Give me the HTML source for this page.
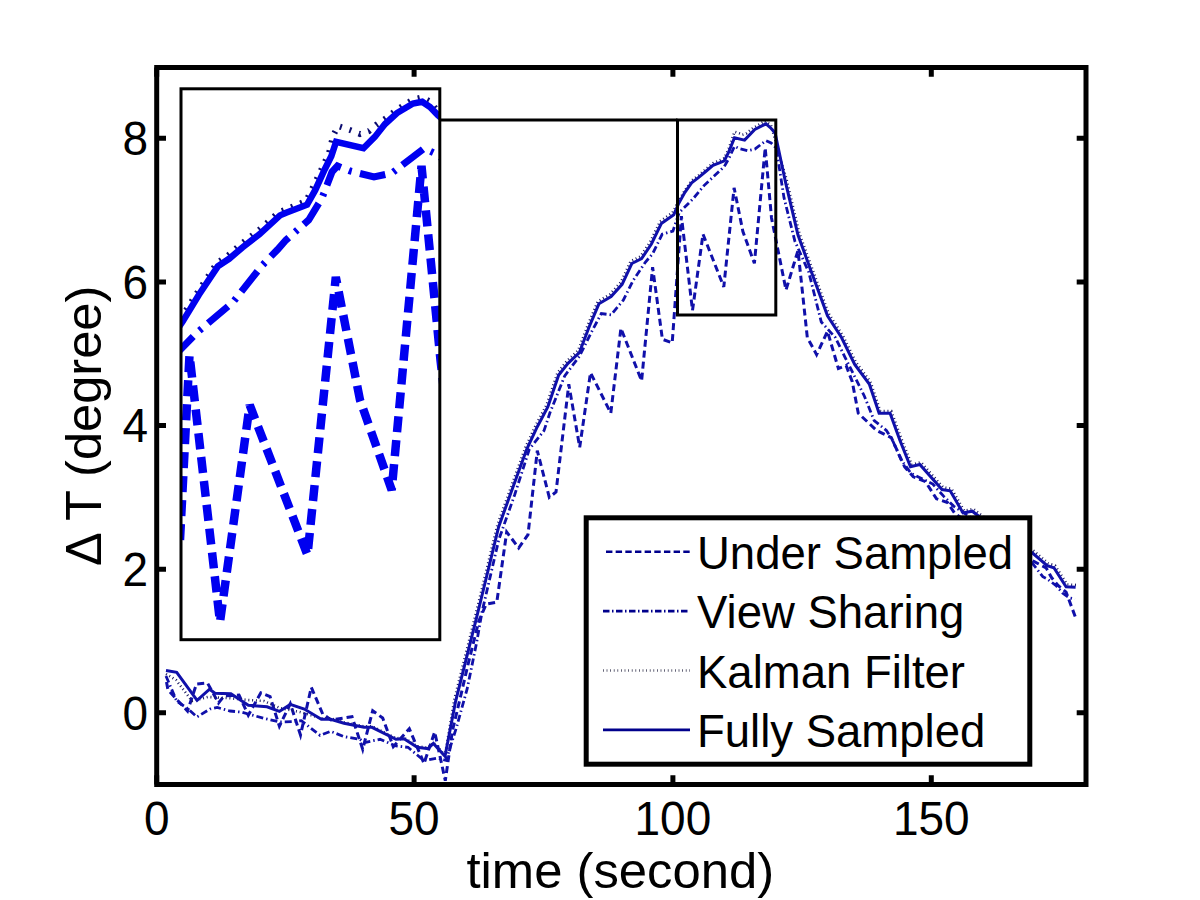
<!DOCTYPE html><html><head><meta charset="utf-8"><style>html,body{margin:0;padding:0;background:#fff;}svg{display:block;}</style></head><body><svg width="1200" height="900" viewBox="0 0 1200 900">
<rect width="1200" height="900" fill="#fff"/>
<defs><clipPath id="cm"><rect x="156.7" y="67.5" width="929.3" height="717.0"/></clipPath>
<clipPath id="ci"><rect x="181.0" y="88.8" width="258.8" height="550.9"/></clipPath></defs>
<g clip-path="url(#cm)" fill="none" stroke="#1010aa" stroke-linejoin="miter">
<polyline points="166.5,682.0 168.0,690.0 187.5,711.0 196.5,684.0 207.5,683.0 218.5,703.0 224.0,696.0 239.0,695.0 248.3,715.3 260.8,692.8 270.1,696.7 279.4,726.2 290.3,703.7 300.5,735.0 311.3,687.3 322.7,714.0 331.0,720.0 352.0,716.7 362.7,749.3 372.7,710.7 382.7,718.0 393.3,746.7 409.3,728.7 424.0,763.3 434.7,732.0 445.3,780.7 452.4,730.9 461.9,690.8 468.3,663.3 478.8,621.1 486.2,604.2 496.8,602.1 506.7,532.0 518.7,548.0 528.0,534.7 537.3,450.7 549.3,497.3 556.0,492.0 568.8,384.3 579.7,447.3 590.5,372.7 610.8,413.1 620.9,328.3 641.6,380.8 652.6,267.2 662.4,339.3 672.2,342.9 681.4,216.2 692.5,310.4 703.0,234.2 723.8,286.9 734.1,187.8 742.9,231.5 754.4,263.3 765.2,147.9 771.5,218.0 786.0,290.0 798.0,250.5 807.3,337.5 816.6,354.6 827.5,331.3 838.4,368.6 846.1,365.5 852.2,381.5 858.3,413.3 876.6,430.4 891.3,437.7 904.7,467.0 913.3,476.8 925.5,481.7 936.5,498.8 947.5,502.5 954.8,513.5 980.0,530.0 1010.0,548.0 1033.3,561.1 1046.1,567.8 1051.7,577.8 1058.3,585.6 1066.1,592.2 1076.1,618.9" stroke-width="3" stroke-dasharray="7 4"/>
<polyline points="166.0,676.0 176.8,701.3 187.0,708.0 197.0,716.9 210.0,709.0 217.2,707.5 230.0,711.0 242.1,712.2 263.9,718.4 280.0,722.0 295.0,721.5 301.3,720.7 320.0,735.3 330.7,731.3 344.0,736.7 360.0,739.3 364.0,742.7 380.0,739.3 396.0,746.0 408.0,747.3 424.0,760.7 437.3,758.0 446.1,760.4 456.7,726.6 467.2,688.7 476.7,642.2 482.0,612.0 498.7,540.0 514.7,494.7 529.3,449.3 544.0,430.7 550.0,412.6 564.7,375.9 579.3,356.4 591.5,332.0 601.3,313.6 611.1,314.8 623.3,300.2 633.1,280.6 645.3,262.3 652.6,253.8 662.2,234.2 672.9,231.1 679.2,212.6 692.8,199.1 704.0,185.6 713.0,177.1 724.3,166.5 728.8,158.6 734.5,146.3 739.0,148.5 748.0,150.7 754.8,149.1 766.0,140.6 771.1,142.9 776.2,148.0 784.0,197.7 794.9,241.2 808.8,272.3 821.3,322.0 835.3,337.5 844.9,357.1 854.7,376.6 864.4,396.2 874.2,420.6 886.4,430.4 892.5,440.2 901.1,459.7 910.9,473.2 923.1,479.3 932.8,484.1 943.8,496.4 953.6,506.1 990.0,530.0 1033.3,564.4 1042.8,576.7 1047.2,578.9 1056.1,585.6 1062.8,593.3 1069.4,597.8 1075.0,598.9" stroke-width="2.8" stroke-dasharray="7 3 1.5 3"/>
<polyline points="166.0,674.0 176.0,680.0 192.0,701.0 208.0,697.0 228.0,698.0 248.0,700.0 264.0,701.0 280.0,708.0 300.0,712.0 321.3,718.3 330.7,718.3 344.0,722.3 364.0,726.3 372.0,726.3 396.0,738.3 404.0,737.7 417.3,746.3 428.0,747.7 433.4,742.5 445.0,755.2 454.4,699.1 463.9,661.1 469.2,640.0 474.5,618.9 479.7,597.8 497.5,524.5 508.1,495.1 525.5,447.1 536.1,424.5 546.6,404.7 557.5,372.8 566.8,361.1 578.1,350.5 587.9,324.8 597.7,301.6 609.9,294.3 620.9,282.1 630.6,261.3 640.4,256.4 650.2,241.8 660.1,221.4 672.6,212.5 678.1,201.9 684.9,190.3 691.6,180.6 698.4,175.5 706.3,168.7 713.0,163.2 718.7,160.7 724.3,158.2 728.8,148.4 734.5,131.8 739.1,133.2 742.4,134.7 746.2,133.6 752.4,128.5 759.5,124.2 764.6,121.0 770.8,124.6 786.7,180.0 799.2,232.8 811.6,267.0 828.7,313.6 842.7,335.3 855.9,362.2 870.5,381.8 880.3,411.1 891.3,411.1 901.1,438.0 911.7,464.6 921.0,462.3 943.2,487.4 951.4,488.6 964.2,510.7 973.5,509.0 991.2,522.8 1011.2,535.8 1034.0,551.1 1048.4,563.4 1055.1,565.6 1067.3,584.5 1076.8,585.0" stroke-width="2.6" stroke-dasharray="1 2.8" stroke="#1a1a60"/>
<polyline points="166.0,670.6 176.7,672.3 197.1,700.3 209.6,689.2 214.9,693.2 230.9,693.7 248.3,705.2 267.0,706.8 279.4,711.4 290.3,704.4 304.3,709.0 321.3,719.3 330.7,719.3 344.0,723.3 364.0,727.3 372.0,727.3 396.0,739.3 404.0,738.7 417.3,747.3 428.0,748.7 433.4,743.5 445.0,756.2 455.6,701.3 465.1,663.3 470.4,642.2 475.7,621.1 480.9,600.0 498.7,526.7 509.3,497.3 526.7,449.3 537.3,426.7 547.8,406.9 558.7,375.0 568.0,363.3 579.3,352.7 589.1,327.0 598.9,303.8 611.1,296.5 622.1,284.3 631.8,263.5 641.6,258.6 651.4,244.0 661.3,223.6 673.8,214.7 678.5,203.8 684.9,192.3 691.6,182.8 698.4,177.7 706.3,171.0 713.0,165.4 718.7,163.1 724.3,160.8 728.8,151.9 734.5,137.8 744.6,140.1 754.8,129.4 766.0,123.8 771.2,128.5 775.1,133.0 785.5,182.2 798.0,235.0 810.4,269.2 827.5,315.8 841.5,337.5 854.7,364.4 869.3,384.0 879.1,413.3 890.1,413.3 899.9,440.2 910.5,466.8 919.8,464.5 942.0,489.6 950.2,490.8 963.0,512.9 972.3,511.2 990.0,525.0 1010.0,538.0 1032.8,553.3 1047.2,565.6 1053.9,567.8 1066.1,586.7 1075.6,587.2" stroke-width="3"/>
</g>
<rect x="677.5" y="120.0" width="98.3" height="195.0" fill="none" stroke="#000" stroke-width="3"/>
<line x1="439.8" y1="120.0" x2="677.5" y2="120.0" stroke="#000" stroke-width="3"/>
<rect x="181.0" y="88.8" width="258.8" height="550.9" fill="#fff"/>
<g clip-path="url(#ci)" fill="none" stroke="#0000f0" stroke-linejoin="miter">
<polyline points="180.0,540.0 189.5,355.0 220.0,622.0 249.7,405.0 307.5,555.0 335.8,277.0 360.0,400.0 391.7,490.0 421.5,166.0 440.5,360.0 445.0,400.0" stroke-width="8.5" stroke-dasharray="16 8"/>
<polyline points="175.0,355.0 197.0,332.6 232.9,302.3 261.3,266.4 277.6,249.5 286.0,240.0 308.7,220.0 322.0,198.0 332.0,172.0 337.5,166.0 350.0,171.0 374.0,177.0 392.0,173.0 424.0,148.4 437.8,154.7 446.0,162.0" stroke-width="7" stroke-dasharray="26 8.5 3 8.5"/>
<polyline points="175.0,327.0 181.0,318.0 198.0,291.5 217.0,263.0 228.0,255.5 241.0,244.0 258.0,231.0 279.0,212.0 286.0,209.5 306.0,201.0 313.0,187.0 323.0,166.0 329.0,153.0 333.0,136.0 338.0,126.0 350.0,130.0 360.0,134.0 369.0,131.0 376.0,125.0 387.0,117.5 397.0,109.5 413.0,99.5 422.0,97.5 431.0,102.0 440.0,115.0 448.0,123.0" stroke-width="6" stroke-dasharray="2 8" stroke="#0c0c70"/>
<polyline points="175.0,333.0 182.8,321.2 198.9,294.8 217.8,266.4 229.1,258.8 242.4,247.5 259.4,234.3 280.0,215.4 286.1,212.7 307.1,204.7 315.2,190.2 324.8,169.2 331.3,156.3 336.1,141.8 363.5,148.2 374.8,136.9 385.0,124.0 397.0,113.0 413.0,103.5 422.2,101.7 430.0,107.0 437.8,115.0 446.0,122.0" stroke-width="6.5"/>
</g>
<rect x="181.0" y="88.8" width="258.8" height="550.9" fill="none" stroke="#000" stroke-width="3"/>
<rect x="156.7" y="67.5" width="929.3" height="717.0" fill="none" stroke="#000" stroke-width="5"/>
<path d="M156.7 784.5V775.2 M156.7 67.5V76.8 M414.1 784.5V775.2 M414.1 67.5V76.8 M672.9 784.5V775.2 M672.9 67.5V76.8 M931.3 784.5V775.2 M931.3 67.5V76.8 M156.7 712.8H166.0 M1086.0 712.8H1076.7 M156.7 569.2H166.0 M1086.0 569.2H1076.7 M156.7 425.6H166.0 M1086.0 425.6H1076.7 M156.7 281.9H166.0 M1086.0 281.9H1076.7 M156.7 138.3H166.0 M1086.0 138.3H1076.7" stroke="#000" stroke-width="5" fill="none"/>
<text transform="translate(156.7,834.6) scale(1,1.045)" font-size="46" text-anchor="middle" font-family="Liberation Sans, sans-serif">0</text>
<text transform="translate(414.1,834.6) scale(1,1.045)" font-size="46" text-anchor="middle" font-family="Liberation Sans, sans-serif">50</text>
<text transform="translate(672.9,834.6) scale(1,1.045)" font-size="46" text-anchor="middle" font-family="Liberation Sans, sans-serif">100</text>
<text transform="translate(931.3,834.6) scale(1,1.045)" font-size="46" text-anchor="middle" font-family="Liberation Sans, sans-serif">150</text>
<text transform="translate(148.2,729.6) scale(1,1.045)" font-size="46" text-anchor="end" font-family="Liberation Sans, sans-serif">0</text>
<text transform="translate(148.2,586.0) scale(1,1.045)" font-size="46" text-anchor="end" font-family="Liberation Sans, sans-serif">2</text>
<text transform="translate(148.2,442.4) scale(1,1.045)" font-size="46" text-anchor="end" font-family="Liberation Sans, sans-serif">4</text>
<text transform="translate(148.2,298.7) scale(1,1.045)" font-size="46" text-anchor="end" font-family="Liberation Sans, sans-serif">6</text>
<text transform="translate(148.2,155.1) scale(1,1.045)" font-size="46" text-anchor="end" font-family="Liberation Sans, sans-serif">8</text>
<text x="620.3" y="888" font-size="50.8" text-anchor="middle" font-family="Liberation Sans, sans-serif">time (second)</text>
<text transform="translate(100.9,425.9) rotate(-90)" x="0" y="0" font-size="50.6" text-anchor="middle" font-family="Liberation Sans, sans-serif">Δ T (degree)</text>
<rect x="586.2" y="517.8" width="443.6" height="246.4" fill="#fff" stroke="#000" stroke-width="5"/>
<line x1="606" y1="551.8" x2="690" y2="551.8" stroke="#00008c" stroke-width="2.6" stroke-dasharray="6.4 3.26"/>
<text x="697" y="568.8" font-size="45.5" font-family="Liberation Sans, sans-serif">Under Sampled</text>
<line x1="603" y1="611.1" x2="690" y2="611.1" stroke="#00008c" stroke-width="2.6" stroke-dasharray="6.5 2.5 1.5 2.5"/>
<text x="697" y="628.1" font-size="45.5" font-family="Liberation Sans, sans-serif">View Sharing</text>
<line x1="603" y1="670.5" x2="690" y2="670.5" stroke="#404058" stroke-width="2.4" stroke-dasharray="0.8 2.8"/>
<text x="697" y="687.5" font-size="45.5" font-family="Liberation Sans, sans-serif">Kalman Filter</text>
<line x1="603" y1="729.8" x2="690" y2="729.8" stroke="#00008c" stroke-width="2.8"/>
<text x="697" y="746.8" font-size="45.5" font-family="Liberation Sans, sans-serif">Fully Sampled</text>
</svg></body></html>
